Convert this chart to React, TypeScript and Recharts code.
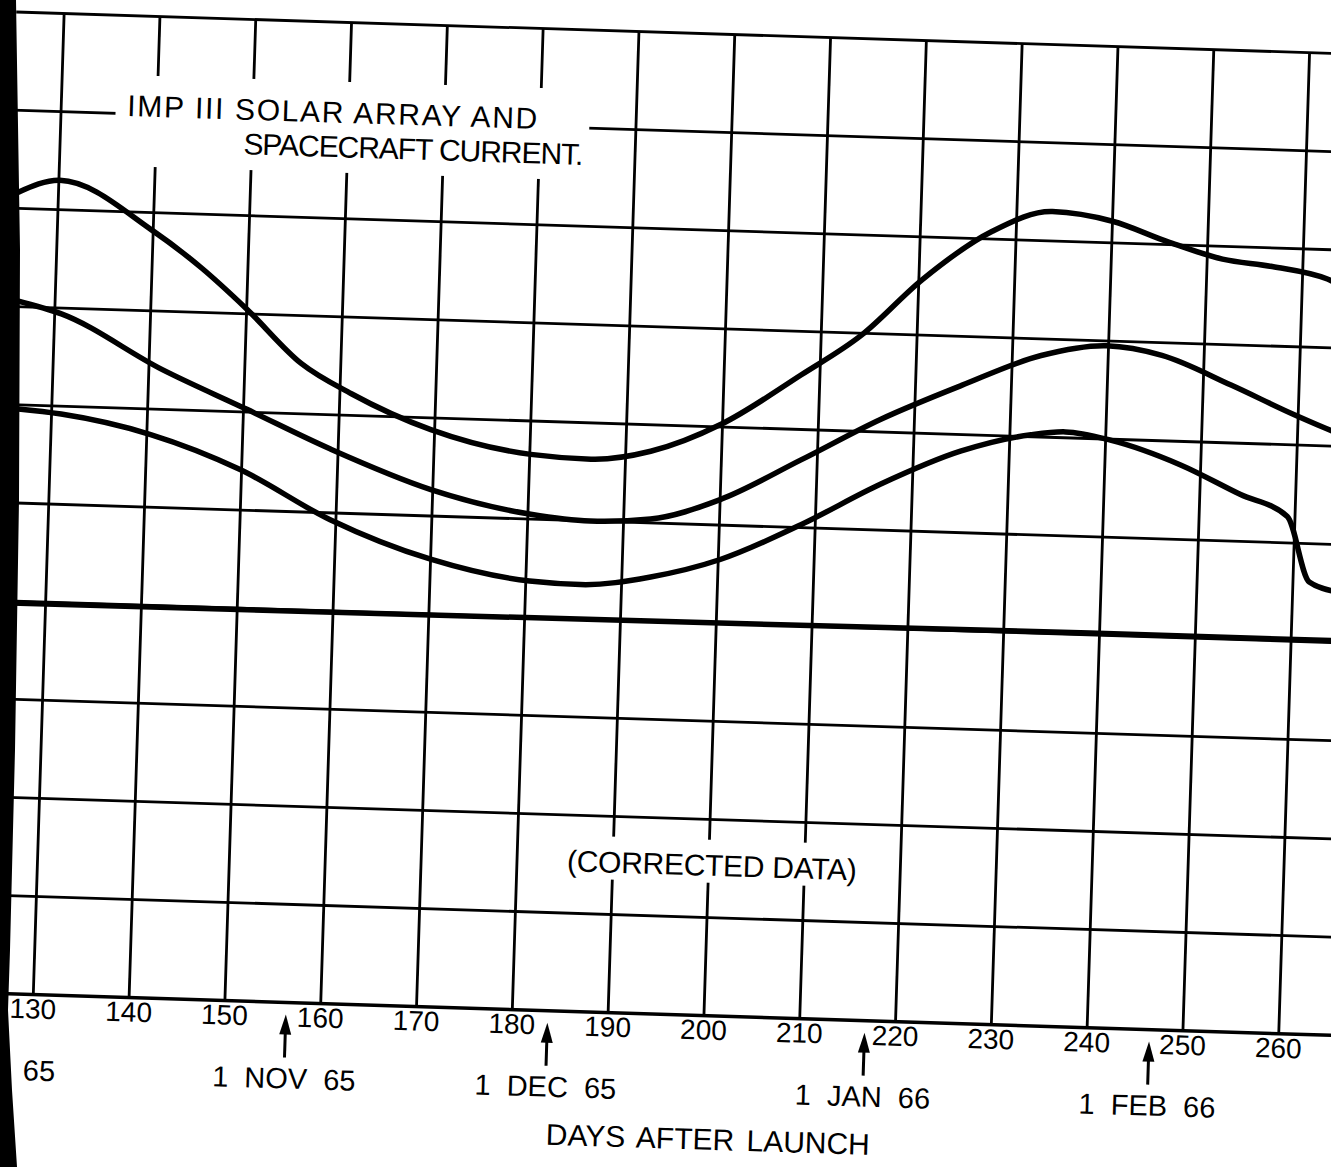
import React from 'react';
import { LineChart, Line, XAxis, YAxis, CartesianGrid, ReferenceDot } from 'recharts';

// days after launch (x) and relative current (y, one unit per grid square)
const xTicks = [130, 140, 150, 160, 170, 180, 190, 200, 210, 220, 230, 240, 250, 260];
const yGridValues = [1, 2, 3, 4, 5, 6, 7, 8, 9, 10];

const upperDays = [125.7, 130.1, 139.9, 145.2, 150.0, 155.9, 161.2, 169.6, 180.1, 186.4, 192.6, 199.9, 208.1, 214.2, 220.3, 227.5, 233.7, 240.0, 245.8, 251.6, 256.8, 262.6, 264.5];
const upperValues = [8.16, 8.3, 7.82, 7.45, 7.05, 6.51, 6.22, 5.88, 5.66, 5.63, 5.73, 6.03, 6.56, 6.98, 7.56, 8.08, 8.3, 8.22, 8.03, 7.87, 7.81, 7.7, 7.62];

const middleDays = [126.0, 130.7, 141.3, 150.3, 159.2, 169.8, 180.3, 186.5, 192.8, 200.0, 208.3, 216.5, 224.8, 233.0, 239.8, 245.6, 252.9, 259.3, 262.9, 264.5];
const middleValues = [7.06, 6.94, 6.41, 6.03, 5.65, 5.27, 5.05, 5.0, 5.04, 5.26, 5.69, 6.13, 6.5, 6.83, 6.95, 6.87, 6.59, 6.32, 6.18, 6.12];

const lowerDays = [126.3, 131.0, 140.4, 149.9, 159.4, 170.0, 180.4, 185.7, 193.0, 200.2, 208.5, 216.7, 224.9, 232.2, 235.8, 240.5, 247.9, 254.2, 259.2, 261.7, 264.5];
const lowerValues = [5.96, 5.92, 5.74, 5.41, 4.93, 4.56, 4.37, 4.35, 4.45, 4.65, 5.03, 5.47, 5.83, 6.02, 6.06, 5.99, 5.76, 5.48, 5.27, 4.61, 4.52];

const spacecraftDays = [125.5, 193.0, 239.0, 265.0];
const spacecraftValues = [3.98, 4.0, 4.02, 4.02];

const dateMarks = [
  { day: 130.85, label: '65', arrow: false },
  { day: 156.4, label: '1 NOV 65', arrow: true },
  { day: 183.7, label: '1 DEC 65', arrow: true },
  { day: 216.8, label: '1 JAN 66', arrow: true },
  { day: 246.5, label: '1 FEB 66', arrow: true },
];

const toPoints = (days: number[], values: number[]) => days.map((day, i) => ({ day, value: values[i] }));

const FONT = '"Liberation Sans", Arial, sans-serif';
const W = 1385;
const H = 1170;

function XTick(props: any) {
  const { x, y, payload } = props;
  return (
    <text x={x} y={y + 24} textAnchor="middle" fontSize={28} fontFamily={FONT} fill="#000">
      {payload.value}
    </text>
  );
}

function DateMark({ cx, cy, label, arrow }: any) {
  return (
    <g>
      {arrow && (
        <g>
          <polygon points={`${cx},${cy + 12} ${cx - 6},${cy + 32} ${cx + 6},${cy + 32}`} fill="#000" />
          <line x1={cx} x2={cx} y1={cy + 28} y2={cy + 55} stroke="#000" strokeWidth={3} />
        </g>
      )}
      <text x={cx} y={cy + 86} textAnchor="middle" fontSize={29} fontFamily={FONT} wordSpacing={8} fill="#000">
        {label}
      </text>
    </g>
  );
}

export default function App() {
  return (
    <div style={{ position: 'fixed', left: 0, top: 0, width: 1331, height: 1167, overflow: 'hidden', background: '#fff' }}>
      <div style={{ position: 'absolute', left: 0, top: 0, width: W, height: H, transform: 'rotate(1.8deg)', transformOrigin: '0 0' }}>
        <LineChart width={W} height={H} margin={{ top: 11.5, right: 21.7, left: 16.6, bottom: 117 }}>
          <CartesianGrid
            stroke="#000"
            strokeWidth={2.8}
            verticalValues={xTicks}
            horizontalValues={yGridValues}
          />
          <XAxis
            dataKey="day"
            type="number"
            domain={[125, 265.5]}
            allowDataOverflow
            ticks={xTicks}
            interval={0}
            height={60}
            tickLine={false}
            tickSize={0}
            tickMargin={0}
            axisLine={{ stroke: '#000', strokeWidth: 3.5 }}
            tick={<XTick />}
          />
          <YAxis type="number" domain={[0, 10]} ticks={[0, ...yGridValues]} hide allowDataOverflow />
          <Line data={toPoints(upperDays, upperValues)} dataKey="value" type="monotone" stroke="#000" strokeWidth={5.5} dot={false} isAnimationActive={false} />
          <Line data={toPoints(middleDays, middleValues)} dataKey="value" type="monotone" stroke="#000" strokeWidth={5.5} dot={false} isAnimationActive={false} />
          <Line data={toPoints(lowerDays, lowerValues)} dataKey="value" type="monotone" stroke="#000" strokeWidth={5.5} dot={false} isAnimationActive={false} />
          <Line data={toPoints(spacecraftDays, spacecraftValues)} dataKey="value" type="linear" stroke="#000" strokeWidth={5.5} dot={false} isAnimationActive={false} />
          {dateMarks.map((m) => (
            <ReferenceDot
              key={m.label}
              x={m.day}
              y={0}
              r={0}
              ifOverflow="visible"
              shape={(p: any) => <DateMark cx={p.cx} cy={p.cy} label={m.label} arrow={m.arrow} />}
            />
          ))}
        </LineChart>
        <svg width={W} height={H} style={{ position: 'absolute', left: 0, top: 0, pointerEvents: 'none' }}>
          <rect x={119} y={71} width={474} height={91} fill="#fff" />
          <text x={130.7} y={112} fontSize={30} fontFamily={FONT} textLength={410} lengthAdjust="spacing" fill="#000">
            IMP III SOLAR ARRAY AND
          </text>
          <text x={247.9} y={146.5} fontSize={30} fontFamily={FONT} textLength={340} lengthAdjust="spacing" fill="#000">
            SPACECRAFT CURRENT.
          </text>
          <rect x={589} y={817} width={298} height={43} fill="#fff" />
          <text x={738.8} y={853} textAnchor="middle" fontSize={30} fontFamily={FONT} textLength={290} lengthAdjust="spacing" fill="#000">
            (CORRECTED DATA)
          </text>
          <text x={743.3} y={1127} textAnchor="middle" fontSize={30} fontFamily={FONT} wordSpacing={4} fill="#000">
            DAYS AFTER LAUNCH
          </text>
        </svg>
      </div>
      <svg width={1331} height={1167} style={{ position: 'absolute', left: 0, top: 0 }}>
        <polygon points="0,0 16,0 20,250 19,500 15,750 10,950 8,1010 12,1090 17,1167 0,1167" fill="#000" />
      </svg>
    </div>
  );
}
